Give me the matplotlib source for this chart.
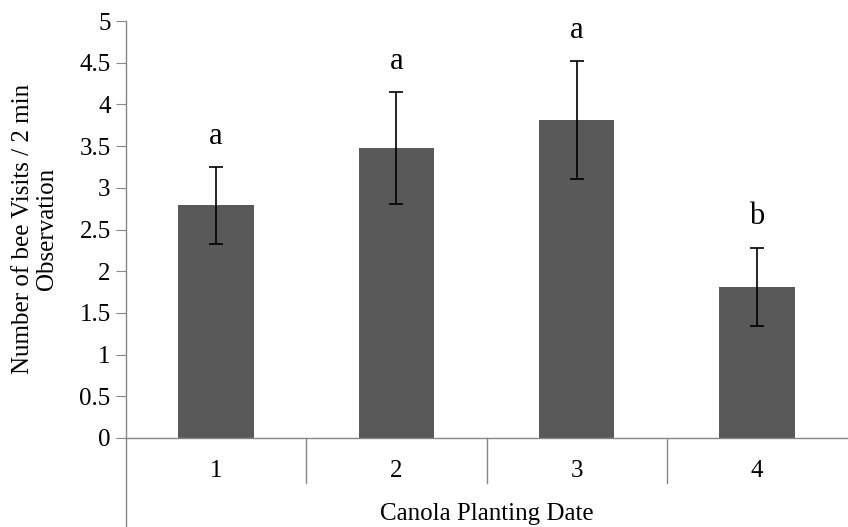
import numpy as np
import matplotlib
matplotlib.use('Agg')
import matplotlib.pyplot as plt

plt.rcParams['font.family'] = ['Liberation Serif', 'DejaVu Serif']

# planting dates and mean bee visits with standard errors
dates = ['1', '2', '3', '4']
visits = [2.79, 3.48, 3.81, 1.81]
errors = [0.46, 0.67, 0.71, 0.47]
letters = ['a', 'a', 'a', 'b']

W, H = 848, 527
fig = plt.figure(figsize=(W / 100, H / 100), dpi=100)
ax = fig.add_axes([126 / W, (H - 438) / H, (847 - 126) / W, (438 - 21) / H])

axis_gray = '#868686'
fs = 18
x = np.arange(1, len(dates) + 1)
ax.bar(x, visits, width=0.42, color='#595959', zorder=2)
ax.errorbar(x, visits, yerr=errors, fmt='none', ecolor='black',
            elinewidth=1.2, capsize=4.8, capthick=1.2, zorder=3)
for xi, v, e, lab in zip(x, visits, errors, letters):
    ax.text(xi, v + e + 0.37, lab, ha='center', va='center', fontsize=22)

ax.set_xlim(0.5, 4.5)
ax.set_ylim(0, 5)
ax.set_yticks(np.arange(0, 5.01, 0.5))
ax.set_yticklabels(['0', '0.5', '1', '1.5', '2', '2.5', '3', '3.5', '4', '4.5', '5'])
ax.tick_params(axis='y', direction='out', length=7, color=axis_gray,
               labelsize=fs, pad=4)
ax.set_xticks([])

for side in ['top', 'right']:
    ax.spines[side].set_visible(False)
for side in ['left', 'bottom']:
    ax.spines[side].set_color(axis_gray)
    ax.spines[side].set_linewidth(1.0)

# extended axis line and category dividers below the plot
ah = 438 - 21
ax.plot([0, 0], [0, -89 / ah], transform=ax.transAxes, color=axis_gray,
        lw=1.0, clip_on=False)
for b in x[:-1] + 0.5:
    ax.plot([b, b], [0, -45 / ah * 5], color=axis_gray, lw=1.0, clip_on=False)
for xi, d in zip(x, dates):
    ax.text(xi, -33 / ah * 5, d, ha='center', va='center', fontsize=fs)
ax.text(2.5, -76 / ah * 5, 'Canola Planting Date', ha='center', va='center',
        fontsize=fs)

fig.text(35 / W, (H - 229) / H, 'Number of bee Visits / 2 min\nObservation',
         rotation=90, ha='center', va='center', fontsize=fs, linespacing=1.1)

fig.savefig('out.png', dpi=100)
